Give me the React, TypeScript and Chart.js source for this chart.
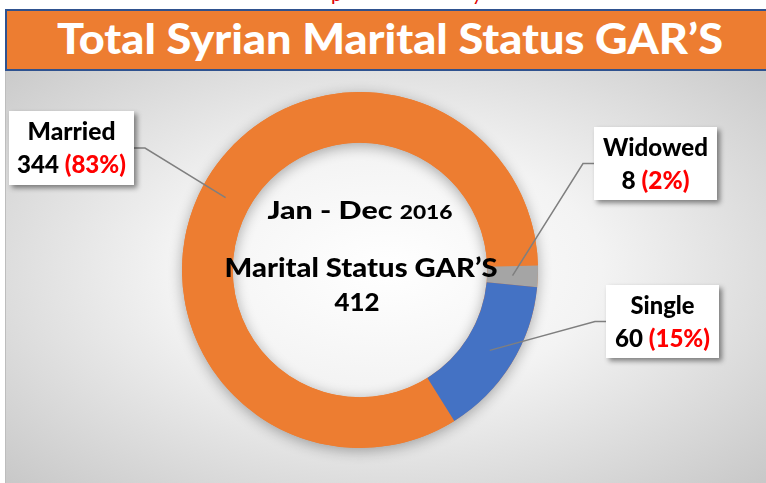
import React, { useEffect, useLayoutEffect, useRef } from 'react';
import { Chart, registerables } from 'chart.js';

Chart.register(...registerables);

// ---------- data ----------
const categories = ['Married', 'Widowed', 'Single'];
const counts = [344, 8, 60];
const percentLabels = ['83%', '2%', '15%'];
const sliceColors = ['#ED7D31', '#A5A5A5', '#4472C4'];
const chartTitle = 'Total Syrian Marital Status GAR\u2019S';
const periodLabel = 'Jan - Dec ';
const yearLabel = '2016';
const centerTitle = 'Marital Status GAR\u2019S';
const totalLabel = '412';

// ---------- layout (canvas coordinates; canvas sits at page 5,71) ----------
const CANVAS_LEFT = 5;
const CANVAS_TOP = 71;
const CANVAS_W = 761;
const CANVAS_H = 412;
const calloutBoxes = [
  { x: 3, y: 40, w: 125, h: 74, side: 'right', widths: [88, 109] },
  { x: 588, y: 56, w: 123, h: 73, side: 'left', widths: [105, 68] },
  { x: 600, y: 214, w: 113, h: 73, side: 'left', widths: [64, 95] },
];

const CENTER_FONT = '"Lato", "DejaVu Sans", sans-serif';
const LABEL_FONT = '"Lato", "Open Sans", sans-serif';

type Piece = { text: string; font: string; color: string };

function drawPieces(ctx: CanvasRenderingContext2D, pieces: Piece[], cx: number, baseline: number, targetW: number) {
  let total = 0;
  const ws: number[] = [];
  for (const p of pieces) {
    ctx.font = p.font;
    const w = ctx.measureText(p.text).width;
    ws.push(w);
    total += w;
  }
  const s = targetW / total;
  ctx.save();
  ctx.translate(cx - targetW / 2, baseline);
  ctx.scale(s, 1);
  ctx.textAlign = 'left';
  ctx.textBaseline = 'alphabetic';
  let x = 0;
  pieces.forEach((p, i) => {
    ctx.font = p.font;
    ctx.fillStyle = p.color;
    ctx.fillText(p.text, x, 0);
    x += ws[i];
  });
  ctx.restore();
}

const ringShadow = {
  id: 'ringShadow',
  beforeDatasetsDraw(chart: any) {
    const meta = chart.getDatasetMeta(0);
    const arc = meta.data[0];
    if (!arc) return;
    const { x, y, innerRadius, outerRadius } = arc.getProps(['x', 'y', 'innerRadius', 'outerRadius'], true);
    const ctx = chart.ctx as CanvasRenderingContext2D;
    ctx.save();
    ctx.shadowColor = 'rgba(0,0,0,0.32)';
    ctx.shadowBlur = 14;
    ctx.shadowOffsetX = 0;
    ctx.shadowOffsetY = 3;
    ctx.beginPath();
    ctx.arc(x, y, outerRadius, 0, Math.PI * 2);
    ctx.arc(x, y, innerRadius, 0, Math.PI * 2, true);
    ctx.closePath();
    ctx.fillStyle = sliceColors[0];
    ctx.fill('evenodd');
    ctx.restore();
  },
};

const annotations = {
  id: 'annotations',
  afterDatasetsDraw(chart: any) {
    const ctx = chart.ctx as CanvasRenderingContext2D;
    const meta = chart.getDatasetMeta(0);
    const first = meta.data[0];
    const { x: cx, y: cy } = first.getProps(['x', 'y'], true);

    // center text
    drawPieces(ctx, [
      { text: periodLabel, font: `900 24px ${CENTER_FONT}`, color: '#000' },
      { text: yearLabel, font: `900 18px ${CENTER_FONT}`, color: '#000' },
    ], cx, cy - 51, 185);
    drawPieces(ctx, [{ text: centerTitle, font: `900 26px ${CENTER_FONT}`, color: '#000' }], cx + 1, cy + 7, 273);
    drawPieces(ctx, [{ text: totalLabel, font: `900 24px ${CENTER_FONT}`, color: '#000' }], cx - 3, cy + 41, 45);

    // callouts
    meta.data.forEach((arc: any, i: number) => {
      const b = calloutBoxes[i];
      const anchor = arc.tooltipPosition(true);
      const midY = b.y + b.h / 2;
      const edgeX = b.side === 'right' ? b.x + b.w : b.x;
      const elbowX = b.side === 'right' ? edgeX + 11 : edgeX - 11;

      // leader line
      ctx.save();
      ctx.strokeStyle = '#7F7F7F';
      ctx.lineWidth = 1.5;
      ctx.beginPath();
      ctx.moveTo(edgeX, midY);
      ctx.lineTo(elbowX, midY);
      ctx.lineTo(anchor.x, anchor.y);
      ctx.stroke();
      ctx.restore();

      // box with shadow
      ctx.save();
      ctx.shadowColor = 'rgba(0,0,0,0.45)';
      ctx.shadowBlur = 5;
      ctx.shadowOffsetX = 3;
      ctx.shadowOffsetY = 3;
      ctx.fillStyle = '#FFFFFF';
      ctx.fillRect(b.x, b.y, b.w, b.h);
      ctx.restore();

      const tx = b.x + b.w / 2;
      drawPieces(ctx, [{ text: categories[i], font: `900 24px ${LABEL_FONT}`, color: '#000' }], tx, b.y + 29, b.widths[0]);
      drawPieces(ctx, [
        { text: `${counts[i]} `, font: `900 24px ${LABEL_FONT}`, color: '#000' },
        { text: `(${percentLabels[i]})`, font: `900 24px ${LABEL_FONT}`, color: '#FF0000' },
      ], tx, b.y + 62, b.widths[1]);
    });
  },
};

export default function App() {
  const canvasRef = useRef<HTMLCanvasElement | null>(null);
  const titleRef = useRef<HTMLSpanElement | null>(null);

  useLayoutEffect(() => {
    const el = titleRef.current;
    if (!el) return;
    el.style.transform = 'none';
    const w = el.getBoundingClientRect().width;
    if (w > 0) el.style.transform = `scaleX(${666 / w})`;
  }, []);

  useEffect(() => {
    if (!canvasRef.current) return;
    const chart = new Chart(canvasRef.current, {
      type: 'doughnut',
      data: {
        labels: categories,
        datasets: [{ data: counts, backgroundColor: sliceColors, borderWidth: 0, hoverOffset: 0 }],
      },
      options: {
        animation: false,
        responsive: true,
        maintainAspectRatio: false,
        rotation: 148,
        cutout: '71.5%',
        radius: 178,
        layout: { padding: { left: 0, right: 53, top: 0, bottom: 14 } },
        events: [],
        plugins: { legend: { display: false }, tooltip: { enabled: false }, title: { display: false } },
      } as any,
      plugins: [ringShadow, annotations],
    });
    return () => chart.destroy();
  }, []);

  return (
    <div style={{ position: 'absolute', left: 0, top: 0, width: 766, height: 483, overflow: 'hidden', background: '#fff' }}>
      {/* cut-off red line at the very top */}
      <div style={{ position: 'absolute', left: 0, top: 0, width: 766, height: 5, overflow: 'hidden' }}>
        <span style={{ position: 'absolute', left: 331, top: -17, font: `20px ${LABEL_FONT}`, lineHeight: 1, color: '#E00000' }}>p</span>
        <span style={{ position: 'absolute', left: 472, top: -17, font: `20px ${LABEL_FONT}`, lineHeight: 1, color: '#E00000' }}>y</span>
      </div>
      {/* title bar */}
      <div style={{ position: 'absolute', left: 5, top: 9, width: 766, height: 58, background: '#ED7D31', borderTop: '2px solid #2F528F', borderBottom: '2px solid #2F528F', borderLeft: '2px solid #2F528F' }} />
      <span ref={titleRef} style={{ position: 'absolute', left: 57, top: 17, whiteSpace: 'nowrap', transformOrigin: 'left center', font: `900 42px ${CENTER_FONT}`, lineHeight: 1, color: '#FFFFFF' }}>{chartTitle}</span>
      {/* chart panel */}
      <div style={{ position: 'absolute', left: CANVAS_LEFT, top: CANVAS_TOP, width: CANVAS_W, height: CANVAS_H, borderLeft: '1px solid #BDBDBD', boxSizing: 'border-box', background: 'radial-gradient(ellipse farthest-corner at 50% 48%, #FFFFFF 0%, #F3F3F3 40%, #C8C8C8 100%)' }}>
        <div style={{ position: 'absolute', left: 0, top: 0, width: CANVAS_W, height: CANVAS_H }}>
          <canvas ref={canvasRef} />
        </div>
      </div>
    </div>
  );
}
